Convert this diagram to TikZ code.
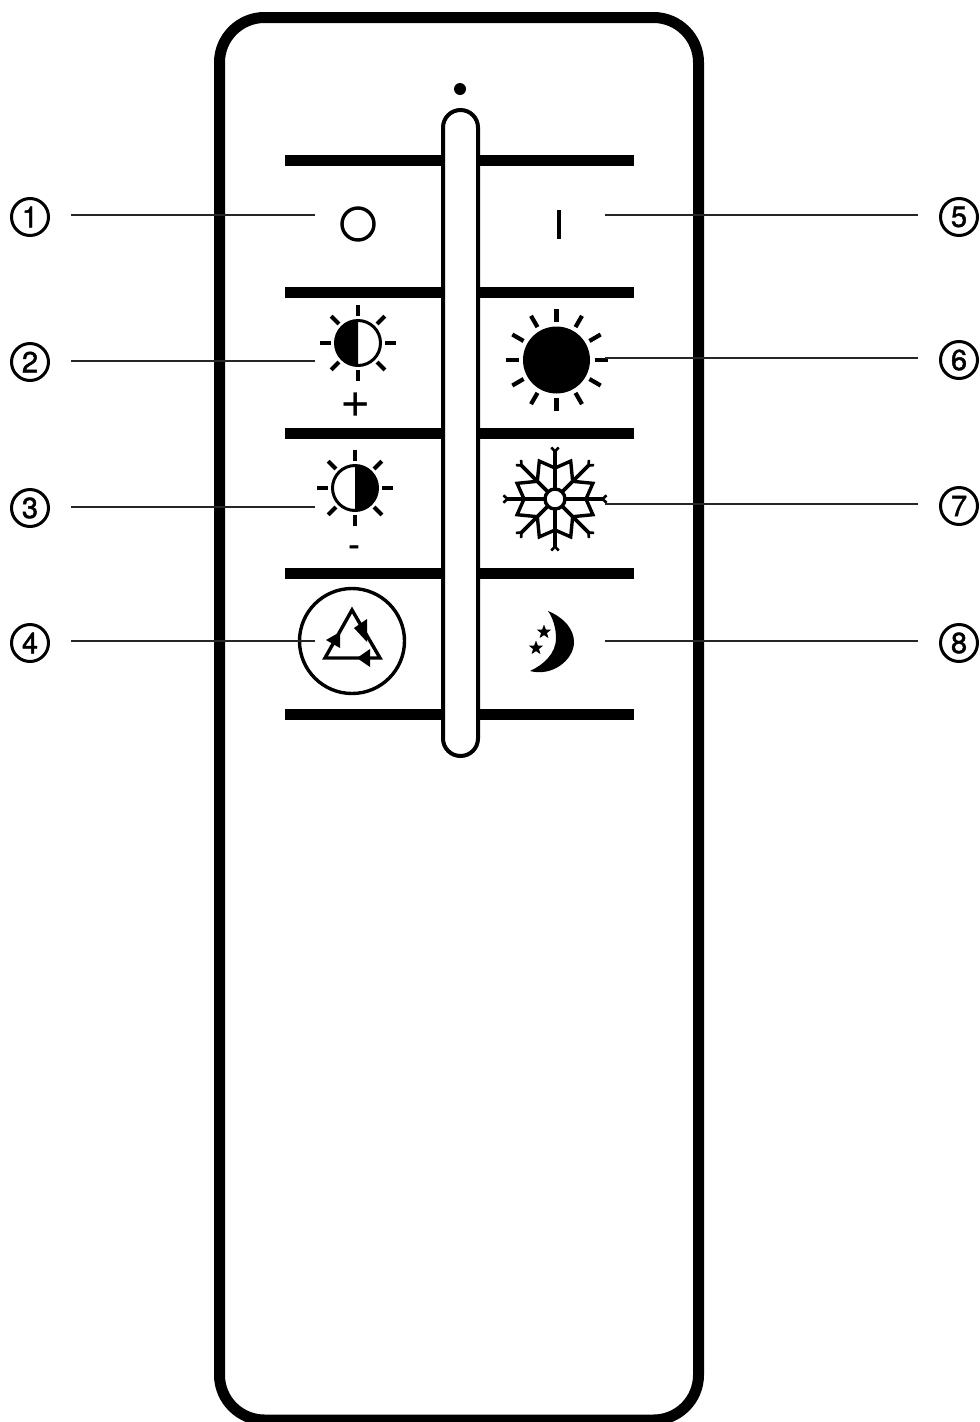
\documentclass[tikz,border=0pt]{standalone}
\usepackage{fontspec}
\setmainfont{TeX Gyre Heros}
\newfontfamily\numfont[FakeBold=1.6]{TeX Gyre Heros}
\usetikzlibrary{calc,shapes.geometric}
\tikzset{
  x=1pt,y=-1pt,
  bar/.style={line width=11pt,black},
  leader/.style={line width=2pt,color=black!85},
  numcirc/.style={circle,draw,line width=3pt,minimum size=37pt,inner sep=0pt,font=\fontsize{29}{29}\selectfont\numfont},
  ray/.style={line width=4.2pt},
  thick3/.style={line width=3.4pt},
  moonstar/.style={star,star points=5,star point ratio=2.4,fill,minimum size=15pt,inner sep=0pt}
}
\newcommand{\rays}[5]{% cx cy r1 r2 n
  \foreach \k in {1,...,#5}{\draw[ray] ($(#1,#2)+({360*\k/#5}:#3)$) -- ($(#1,#2)+({360*\k/#5}:#4)$);}}
\begin{document}
\begin{tikzpicture}
\useasboundingbox (0,0) rectangle (980,1422);
% body
\draw[line width=11pt,rounded corners=45pt] (219.5,17.5) rectangle (698.5,1420);
% bars
\foreach \y in {160,292,433,573,714}{
  \draw[bar] (285,\y) -- (634,\y);
}
% indicator and slider
\fill (460,89) circle (6);
\draw[line width=4pt,fill=white,rounded corners=17.5pt] (443,110) rectangle (478,756);
% off
\draw[thick3] (358,224) circle (16);
\draw[thick3] (559,210) -- (559,239);
% half sun plus
\draw[line width=3pt,fill=white] (358,343) circle (22.5);
\fill (358,365.5) arc (90:270:22.5) -- cycle;
\rays{358}{343}{27}{38}{8}
\node[inner sep=0pt] (plus) at (355.5,405) {\fontsize{52}{52}\selectfont +};
% half sun minus
\draw[line width=3pt,fill=white] (355,488) circle (22.5);
\fill (355,510.5) arc (90:-90:22.5) -- cycle;
\rays{355}{488}{27}{38}{8}
\node[inner sep=0pt] (minus) at (354,551) {\fontsize{34}{34}\selectfont\numfont -};
% full sun
\fill (556.5,360) circle (33.5);
\rays{556.5}{360}{38}{51}{12}
% snowflake
\foreach \a in {0,45,...,315}{
  \draw[line width=3.8pt] ($(555,499)+(\a:10)$) -- ($(555,499)+(\a:48)$);
  \draw[line width=2.6pt] ($(555,499)+(\a:49)+(\a+55:4.5)$) -- ($(555,499)+(\a:47.5)$) -- ($(555,499)+(\a:49)+(\a-55:4.5)$);
}
\draw[thick3,line join=miter]
  ($(555,499)+(0:31)$)
  \foreach \a/\r in {22.5/41,45/25,67.5/41,90/31,112.5/41,135/25,157.5/41,180/31,202.5/41,225/25,247.5/41,270/31,292.5/41,315/25,337.5/41}{ -- ($(555,499)+(\a:\r)$)} -- cycle;
\draw[line width=3.4pt,fill=white] (555,499) circle (10);
% recycle
\draw[thick3] (352,641) circle (52.5);
\draw[thick3,line join=miter] (352,610) -- (380,658) -- (325,658) -- cycle;
\fill (367,619) -- (354,628) -- (367,642) -- cycle;
\fill (370,649) -- (357,658) -- (370,667) -- cycle;
\fill (340,632) -- (326,640) -- (340,648) -- cycle;
% moon
\fill (548,611) .. controls (565,618) and (574,630) .. (574,642)
  .. controls (574,660) and (552,677) .. (530,671)
  .. controls (543,665) and (556,654) .. (556,638)
  .. controls (556,628) and (553,618) .. (548,611) -- cycle;
\node[moonstar] (s1) at (544,632) {};
\node[moonstar] (s2) at (536,648) {};
% numbers
\node[numcirc] (n1) at (30,217) {1};
\node[numcirc] (n2) at (30,362) {2};
\node[numcirc] (n3) at (30,508) {3};
\node[numcirc] (n4) at (30,643) {4};
\node[numcirc] (n5) at (959,217) {5};
\node[numcirc] (n6) at (959,360) {6};
\node[numcirc] (n7) at (959,506) {7};
\node[numcirc] (n8) at (959,643) {8};
% leaders
\foreach \i/\ya/\xb in {1/215/315,2/361/315,3/507/315,4/641/315}{
  \coordinate (la\i) at (71,\ya); \coordinate (lb\i) at (\xb,\ya);
  \draw[leader] (la\i) -- (lb\i);
}
\foreach \i/\ya in {5/215,6/358,7/504,8/641}{
  \coordinate (la\i) at (918,\ya); \coordinate (lb\i) at (605,\ya);
  \draw[leader] (la\i) -- (lb\i);
}
\end{tikzpicture}
\end{document}
